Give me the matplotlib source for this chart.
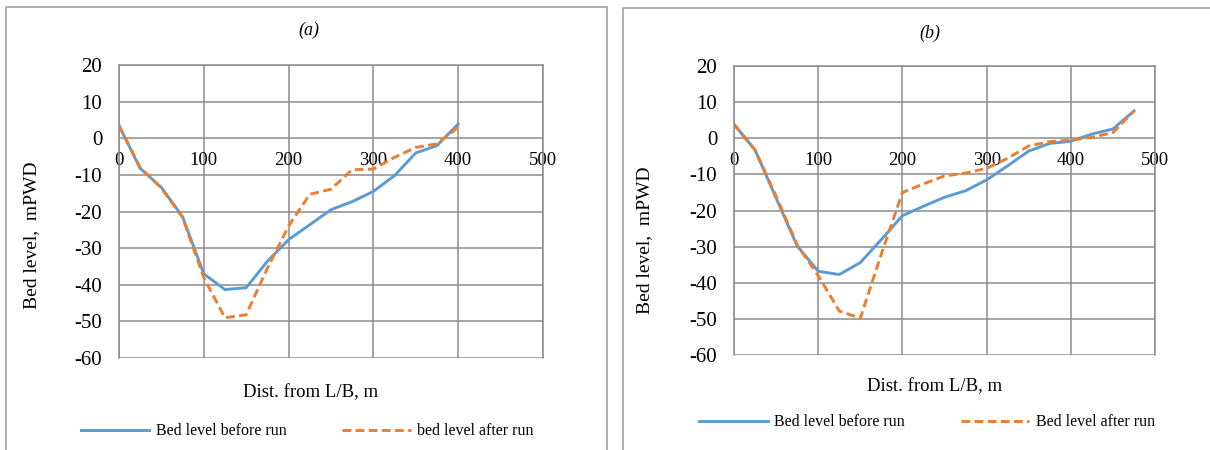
import matplotlib
matplotlib.use("Agg")
import matplotlib.pyplot as plt
from matplotlib.patches import Rectangle

plt.rcParams['font.family'] = ['Liberation Serif', 'DejaVu Serif']
plt.rcParams['axes.unicode_minus'] = False

# distance from left bank (m)
dist_a = [0, 25, 50, 75, 100, 125, 150, 175, 200, 225, 250, 275, 300, 325, 350, 375, 400]
before_a = [3.5, -8.2, -13.4, -21.4, -37.0, -41.3, -40.8, -33.6, -27.7, -23.6, -19.5, -17.3, -14.5, -10.2, -4.0, -2.0, 3.9]
after_a = [3.5, -8.0, -13.6, -21.6, -38.0, -49.0, -48.2, -35.5, -24.0, -15.3, -13.9, -8.6, -8.4, -5.2, -2.5, -1.5, 3.0]

dist_b = [0, 25, 50, 75, 100, 125, 150, 175, 200, 225, 250, 275, 300, 325, 350, 375, 400, 425, 450, 475]
before_b = [3.9, -3.2, -16.5, -29.8, -36.8, -37.7, -34.4, -28.0, -21.4, -18.8, -16.3, -14.5, -11.5, -7.6, -3.5, -1.4, -0.8, 1.2, 2.6, 7.6]
after_b = [3.9, -3.2, -16.0, -29.5, -38.0, -47.8, -49.8, -32.0, -15.0, -12.6, -10.4, -9.6, -8.3, -5.5, -2.1, -0.9, -0.5, 0.3, 1.6, 7.6]

xticks = [0, 100, 200, 300, 400, 500]
yticks = [20, 10, 0, -10, -20, -30, -40, -50, -60]

blue = '#5b9bd5'
orange = '#ed7d31'
grid_gray = '#8c8c8c'

fig = plt.figure(figsize=(12.1, 4.5), dpi=100)

# panel borders
fig.patches.append(Rectangle((0.005, -0.05), 0.497, 1.034, transform=fig.transFigure,
                             fill=False, edgecolor='#9a9a9a', lw=1.1))
fig.patches.append(Rectangle((0.5149, -0.05), 0.6, 1.032, transform=fig.transFigure,
                             fill=False, edgecolor='#9a9a9a', lw=1.1))

panels = [
    dict(rect=[0.0983, 0.2044, 0.3504, 0.651], x=dist_a, b=before_a, a=after_a,
         title='(a)', tpos=(0.2554, 0.933), xl=(0.257, 0.127), yl=(0.026, 0.478),
         leg=(0.0667, 0.042), after_label='bed level after run'),
    dict(rect=[0.6066, 0.211, 0.348, 0.642], x=dist_b, b=before_b, a=after_b,
         title='(b)', tpos=(0.7686, 0.927), xl=(0.7727, 0.14), yl=(0.533, 0.467),
         leg=(0.5777, 0.062), after_label='Bed level after run'),
]

for p in panels:
    ax = fig.add_axes(p['rect'])
    l1, = ax.plot(p['x'], p['b'], color=blue, lw=2.1, label='Bed level before run')
    l2, = ax.plot(p['x'], p['a'], color=orange, lw=2.1, linestyle=(0, (3.0, 1.5)),
                  label=p['after_label'])
    ax.set_xlim(0, 500)
    ax.set_ylim(-60, 20)
    ax.set_xticks(xticks)
    ax.set_yticks(yticks)
    ax.grid(True, color=grid_gray, lw=1.1)
    ax.set_axisbelow(True)
    for s in ['top', 'left', 'right']:
        ax.spines[s].set_color(grid_gray)
        ax.spines[s].set_linewidth(1.1)
    ax.spines['bottom'].set_position(('data', 0))
    ax.spines['bottom'].set_color('none')
    ax.tick_params(axis='x', length=0, pad=10, labelsize=13.5)
    ax.tick_params(axis='y', length=0, pad=12, labelsize=15)

    fig.text(p['tpos'][0], p['tpos'][1], p['title'], fontsize=13, style='italic',
             ha='center', va='center')
    fig.text(p['xl'][0], p['xl'][1], 'Dist. from L/B, m', fontsize=13.5,
             ha='center', va='center')
    fig.text(p['yl'][0], p['yl'][1], 'Bed level,  mPWD', fontsize=14, rotation=90,
             ha='center', va='center')
    ax.legend(handles=[l1, l2], loc='center left', bbox_to_anchor=p['leg'],
              bbox_transform=fig.transFigure, ncol=2, frameon=False, fontsize=11.5,
              handlelength=4.3, handletextpad=0.4, columnspacing=3.5,
              borderpad=0, borderaxespad=0)

fig.savefig('out.png', dpi=100)
